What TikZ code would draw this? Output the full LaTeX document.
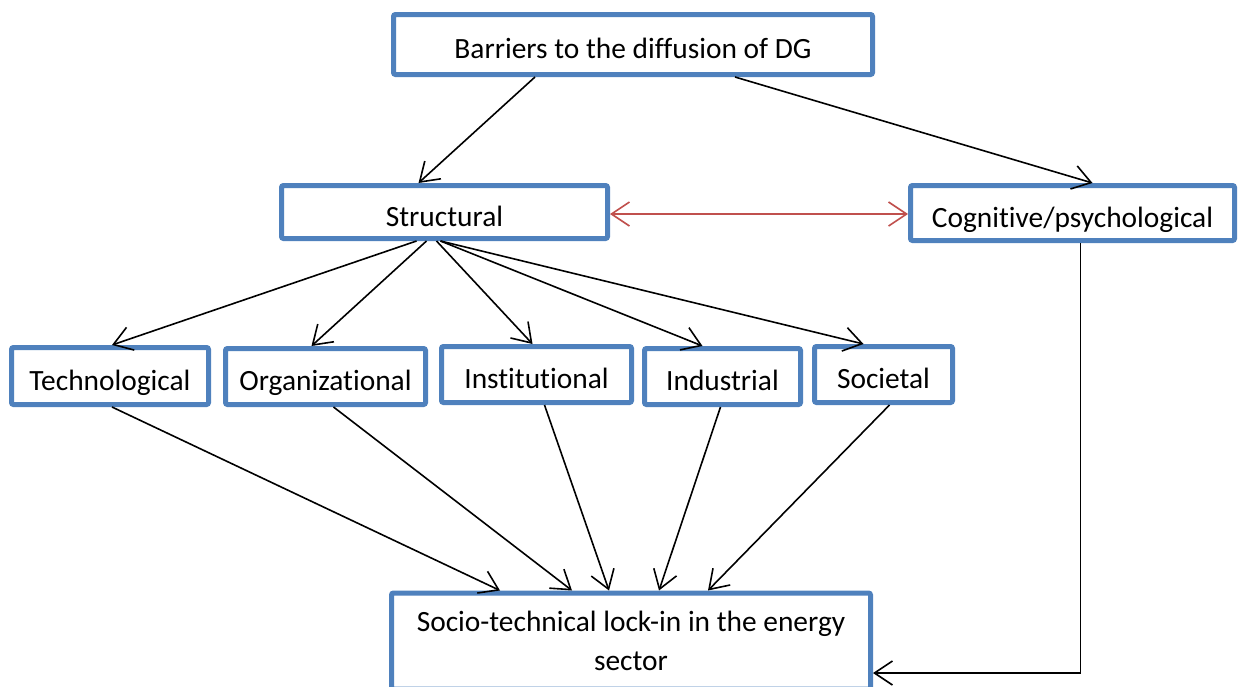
\documentclass[tikz,border=0pt]{standalone}
\usepackage{fontspec}
\setmainfont{Carlito}[Ligatures=NoCommon]
\usetikzlibrary{arrows.meta}
\definecolor{boxblue}{RGB}{79,129,189}
\definecolor{linkred}{RGB}{192,80,77}
\tikzset{
  box/.style={draw=boxblue,line width=2.5pt,rounded corners=1pt,fill=white,
    inner sep=2pt,font=\fontsize{14.7}{19.5}\selectfont,
    text height=14pt,text depth=0pt},
  link/.style={line width=0.8pt,-{Straight Barb[length=9pt,width=12pt]}}
}
\begin{document}
\begin{tikzpicture}[x=0.5pt,y=-0.5pt]
\useasboundingbox (0,0) rectangle (1238,686);
% boxes
\node[box,minimum width=239.5pt,minimum height=30pt] (barriers) at (633,44.5) {Barriers to the diffusion of DG};
\node[box,minimum width=163pt,minimum height=26.5pt] (structural) at (444.5,212) {Structural};
\node[box,minimum width=162pt,minimum height=27.5pt] (cognitive) at (1072.5,213) {Cognitive/psychological};
\node[box,minimum width=98.5pt,minimum height=28.5pt] (techno) at (110,376) {Technological};
\node[box,minimum width=100pt,minimum height=28pt] (organ) at (325.5,376.5) {Organizational};
\node[box,minimum width=95pt,minimum height=28pt] (instit) at (536.5,374.5) {Institutional};
\node[box,minimum width=78pt,minimum height=28pt] (indust) at (722.5,376.5) {Industrial};
\node[box,minimum width=69pt,minimum height=28pt] (societal) at (883.5,374.5) {Societal};
\node[box,text height={},text depth={},minimum width=239.5pt,minimum height=48pt,align=center] (lockin) at (631,641) {Socio-technical lock-in in the energy\\sector};
% top level
\draw[link] ([xshift=-49pt]barriers.south) -- ([xshift=-13pt]structural.north);
\draw[link] ([xshift=51pt]barriers.south) -- ([xshift=10pt]cognitive.north);
\draw[link,linkred,{Straight Barb[length=9pt,width=12pt]}-{Straight Barb[length=9pt,width=12pt]}]
  ([yshift=-1pt]structural.east) -- ([yshift=-1pt]structural.east -| cognitive.west);
% structural barriers
\draw[link] ([xshift=-14pt]structural.south) -- ([xshift=1pt]techno.north);
\draw[link] ([xshift=-9pt]structural.south) -- ([xshift=-7pt]organ.north);
\draw[link] ([xshift=-4pt]structural.south) -- ([xshift=-2pt]instit.north);
\draw[link] ([xshift=-2pt]structural.south) -- ([xshift=-10pt]indust.north);
\draw[link] ([xshift=-2pt]structural.south) -- ([xshift=-10pt]societal.north);
% towards lock-in
\draw[link] ([xshift=1pt]techno.south) -- ([xshift=-65.5pt]lockin.north);
\draw[link] ([xshift=4pt]organ.south) -- ([xshift=-29.5pt]lockin.north);
\draw[link] ([xshift=4pt]instit.south) -- ([xshift=-11pt]lockin.north);
\draw[link] ([xshift=-1pt]indust.south) -- ([xshift=14pt]lockin.north);
\draw[link] ([xshift=3pt]societal.south) -- ([xshift=38.5pt]lockin.north);
\draw[link] ([xshift=4pt]cognitive.south) |- ([yshift=-16pt]lockin.east);
\end{tikzpicture}
\end{document}
